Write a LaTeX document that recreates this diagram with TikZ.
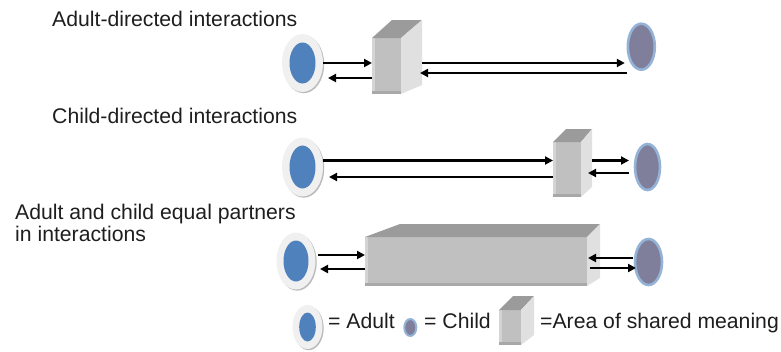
\documentclass[tikz,border=0pt]{standalone}
\usepackage{fontspec}
\setmainfont{Liberation Sans}
\usetikzlibrary{arrows.meta, shapes.geometric, calc, shadows}

\definecolor{adultblue}{HTML}{4F81BD}
\definecolor{childfill}{HTML}{7F7F9C}
\definecolor{childring}{HTML}{95B3D7}
\definecolor{halo}{HTML}{F0F0F0}
\definecolor{boxfront}{HTML}{C0C0C0}
\definecolor{boxtop}{HTML}{9B9B9B}
\definecolor{boxside}{HTML}{E0E0E0}
\definecolor{boxedge}{HTML}{D4D4D4}
\definecolor{boxbase}{HTML}{A8A8A8}
\definecolor{txt}{HTML}{1E1E1E}

\begin{document}
\begin{tikzpicture}[
    x=1pt, y=-1pt,
    adult/.style={ellipse, fill=halo, inner sep=0pt, outer sep=0pt,
        drop shadow={shadow xshift=1.2pt, shadow yshift=-1.2pt, fill=black!45, opacity=.6},
        path picture={\fill[adultblue] (path picture bounding box.center) ellipse (#1);}},
    child/.style={ellipse, fill=childfill, draw=childring, line width=2.6pt, inner sep=0pt, outer sep=0pt},
    front/.style={rectangle, fill=boxfront, inner sep=0pt, outer sep=0pt,
        path picture={
            \fill[boxedge] (path picture bounding box.north west) rectangle ([xshift=3pt]path picture bounding box.south west);
            \fill[boxbase] (path picture bounding box.south west) rectangle ([yshift=3pt]path picture bounding box.south east);}},
    topface/.style={fill=boxtop},
    sideface/.style={fill=boxside},
    lbl/.style={anchor=base west, inner sep=0pt, text=txt, font=\fontsize{21.2}{25}\selectfont},
    arr/.style={-{Triangle[length=8pt, width=8pt]}, line width=2.7pt, black}
]
    \useasboundingbox (0,0) rectangle (781,351);

    % headings
    \node[lbl] (t1) at (52,26) {Adult-directed interactions};
    \node[lbl] (t2) at (52,123) {Child-directed interactions};
    \node[lbl] (t3) at (15,219.5) {Adult and child equal partners};
    \node[lbl] (t4) at (15,241.5) {in interactions};

    % row 1: adult-directed
    \node[adult={13pt and 20.5pt}, minimum width=41pt, minimum height=58pt] (ad1) at (302.5,63) {};
    \node[front, minimum width=29pt, minimum height=56pt] (bx1) at (386.5,66) {};
    \fill[topface] (bx1.north west) -- ($(bx1.north west)+(20,-18)$) -- ($(bx1.north east)+(21,-18)$) -- (bx1.north east) -- cycle;
    \fill[sideface] (bx1.north east) -- ($(bx1.north east)+(21,-18)$) -- ($(bx1.south east)+(21,-9)$) -- (bx1.south east) -- cycle;
    \node[child, minimum width=27pt, minimum height=46pt] (ch1) at (641.3,46.7) {};
    \coordinate (u1) at (0,63);
    \coordinate (l1) at (0,78);
    \coordinate (m1) at (0,73);
    \draw[arr] (ad1.east |- u1) -- (bx1.west |- u1);
    \draw[arr] (bx1.west |- l1) -- ([xshift=5pt]ad1.east |- l1);
    \draw[arr] ([xshift=21pt]bx1.east |- u1) -- ([xshift=-3pt]ch1.west |- u1);
    \draw[arr] ([xshift=-1pt]ch1.west |- m1) -- ([xshift=19pt]bx1.east |- m1);

    % row 2: child-directed
    \node[adult={13pt and 21.5pt}, minimum width=41pt, minimum height=59pt] (ad2) at (302.5,167) {};
    \node[front, minimum width=28pt, minimum height=55pt] (bx2) at (567,169.5) {};
    \fill[topface] (bx2.north west) -- ($(bx2.north west)+(13,-13)$) -- ($(bx2.north east)+(11,-13)$) -- (bx2.north east) -- cycle;
    \fill[sideface] (bx2.north east) -- ($(bx2.north east)+(11,-13)$) -- ($(bx2.south east)+(11,-10)$) -- (bx2.south east) -- cycle;
    \node[child, minimum width=25pt, minimum height=46pt] (ch2) at (647.5,167) {};
    \coordinate (u2) at (0,160.5);
    \coordinate (l2) at (0,177);
    \coordinate (m2) at (0,173);
    \draw[arr] (ad2.east |- u2) -- (bx2.west |- u2);
    \draw[arr] (bx2.west |- l2) -- ([xshift=6pt]ad2.east |- l2);
    \draw[arr] ([xshift=11pt]bx2.east |- u2) -- ([xshift=-6pt]ch2.west |- u2);
    \draw[arr] ([xshift=-6pt]ch2.west |- m2) -- ([xshift=7pt]bx2.east |- m2);

    % row 3: equal partners
    \node[adult={12.5pt and 20.5pt}, minimum width=39pt, minimum height=57pt] (ad3) at (296,261) {};
    \node[front, minimum width=222pt, minimum height=49pt] (bx3) at (476,261.5) {};
    \fill[topface] (bx3.north west) -- ($(bx3.north west)+(35,-13)$) -- ($(bx3.north east)+(13,-13)$) -- (bx3.north east) -- cycle;
    \fill[sideface] (bx3.north east) -- ($(bx3.north east)+(13,-13)$) -- ($(bx3.south east)+(13,-8)$) -- (bx3.south east) -- cycle;
    \node[child, minimum width=27pt, minimum height=46pt] (ch3) at (648.5,262) {};
    \coordinate (u3) at (0,255);
    \coordinate (l3) at (0,269);
    \coordinate (r3) at (0,258);
    \coordinate (s3) at (0,268);
    \draw[arr] ([xshift=2.5pt]ad3.east |- u3) -- (bx3.west |- u3);
    \draw[arr] (bx3.west |- l3) -- ([xshift=4.5pt]ad3.east |- l3);
    \draw[arr] ([xshift=-2.5pt]ch3.west |- r3) -- ([xshift=1pt]bx3.east |- r3);
    \draw[arr] ([xshift=3pt]bx3.east |- s3) -- ([xshift=1pt]ch3.west |- s3);

    % legend
    \node[adult={8.3pt and 14.5pt}, minimum width=30pt, minimum height=44pt] (lgad) at (307.5,327) {};
    \node[lbl] (lgadt) at (328,328.3) {= Adult};
    \node[child, line width=2pt, minimum width=12pt, minimum height=17pt] (lgch) at (410.3,327.5) {};
    \node[lbl] (lgcht) at (424,328.3) {= Child};
    \node[front, minimum width=22pt, minimum height=35pt] (lgbx) at (510,327.5) {};
    \fill[topface] (lgbx.north west) -- ($(lgbx.north west)+(14,-14)$) -- ($(lgbx.north east)+(13,-14)$) -- (lgbx.north east) -- cycle;
    \fill[sideface] (lgbx.north east) -- ($(lgbx.north east)+(13,-14)$) -- ($(lgbx.south east)+(13,-10)$) -- (lgbx.south east) -- cycle;
    \node[lbl] (lgbxt) at (540,328.3) {=Area of shared meaning};
\end{tikzpicture}
\end{document}
